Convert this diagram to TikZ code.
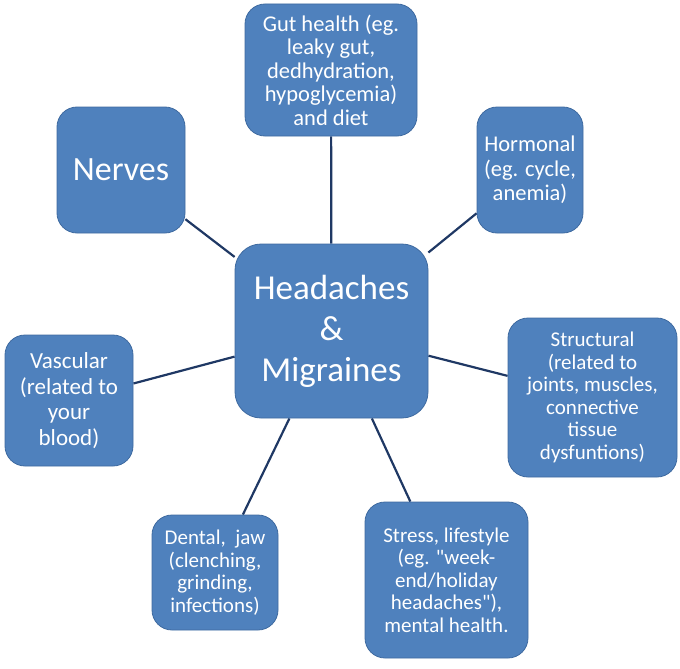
\documentclass[tikz,border=0pt]{standalone}
\usepackage{fontspec}
\setmainfont{Carlito}
\usepackage{xcolor}
\usetikzlibrary{positioning, backgrounds}

\begin{document}
\begin{tikzpicture}[
    x=1pt, y=-1pt,
    every node/.style={text=white, align=center},
    box/.style={
        draw=cBoxLine, line width=0.8pt, fill=cBox,
        rounded corners=20pt, inner sep=0pt
    },
    txtS/.style={font={\fontsize{21}{22.5}\selectfont}},
    txtM/.style={font={\fontsize{22.5}{24.5}\selectfont}},
    link/.style={draw=cLink, line width=2.2pt}
]
\definecolor{cBox}{RGB}{79,129,189}
\definecolor{cBoxLine}{RGB}{62,106,160}
\definecolor{cLink}{RGB}{31,56,100}

\useasboundingbox (0,0) rectangle (680,669);

% Hub
\node[box, rounded corners=26pt, minimum width=193pt, minimum height=174pt,
      font={\fontsize{35}{41}\selectfont}] (hub) at (331.5,331)
    {Headaches\\\&\\Migraines};

% Outer topics
\node[box, font={\fontsize{22.5}{23.5}\selectfont}, minimum width=172pt,
      minimum height=132pt] (gut) at (331,70)
    {Gut health (eg.\\leaky gut,\\dedhydration,\\hypoglycemia)\\and diet};
\node[box, minimum width=128pt, minimum height=126pt,
      font={\fontsize{34}{40}\selectfont}] (nerves) at (121,170) {Nerves};
\node[box, txtM, minimum width=106pt, minimum height=126pt] (hormonal) at (530,170)
    {Hormonal\\(eg. cycle,\\anemia)};
\node[box, font={\fontsize{23}{25.5}\selectfont}, minimum width=128pt,
      minimum height=131pt] (vascular) at (69,400.5)
    {Vascular\\(related to\\your\\blood)};
\node[box, txtS, minimum width=169pt, minimum height=159pt] (structural) at (592.5,397.5)
    {Structural\\(related to\\joints, muscles,\\connective\\tissue\\dysfuntions)};
\node[box, txtS, minimum width=126pt, minimum height=115pt] (dental) at (215,572.5)
    {Dental,\ \ jaw\\(clenching,\\grinding,\\infections)};
\node[box, txtS, minimum width=163pt, minimum height=156pt] (stress) at (446.5,580)
    {Stress, lifestyle\\(eg. \textquotedbl week-\\end/holiday\\headaches\textquotedbl),\\mental health.};

% Links
\begin{scope}[on background layer]
\foreach \topic in {gut, nerves, hormonal, vascular, structural, dental, stress}
    \draw[link] (hub) -- (\topic);
\end{scope}

\end{tikzpicture}
\end{document}
